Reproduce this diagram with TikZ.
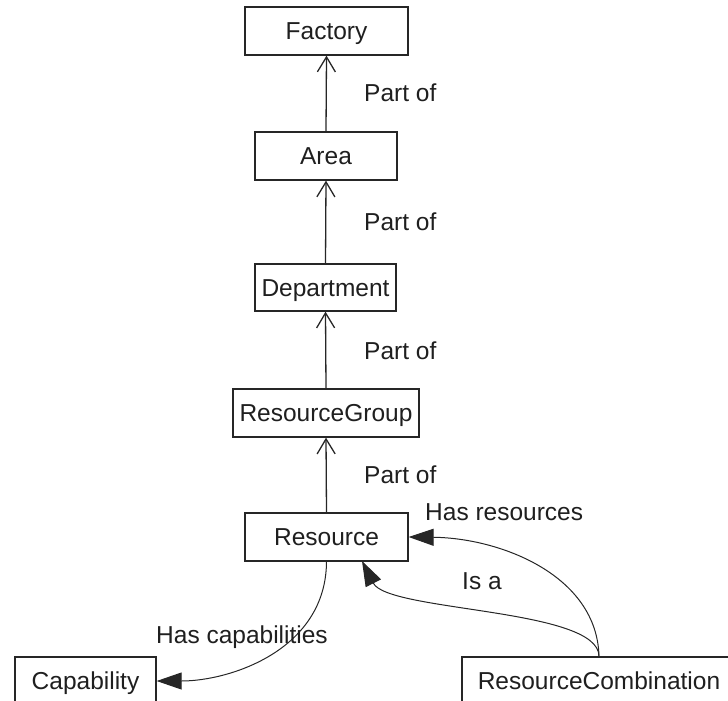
\documentclass[tikz,border=0pt]{standalone}
\usepackage{fontspec}
\setmainfont{Liberation Sans}
\usetikzlibrary{arrows.meta}

\begin{document}
\begin{tikzpicture}[x=1pt, y=-1pt,
  every node/.style={font=\fontsize{24.5pt}{29pt}\selectfont, text=black!88},
  entity/.style={draw=black!85, line width=1.3pt, inner sep=0pt,
    text height=17.5pt, text depth=0pt, minimum height=48pt},
  partof/.style={draw=black!85, line width=1.3pt,
    -{Straight Barb[length=15pt,width=18pt,line width=1.3pt]}},
  relation/.style={draw=black!85, line width=1pt,
    -{Triangle[length=25pt,width=17pt]}},
  edgelabel/.style={anchor=base west, inner sep=0pt}
]
  \useasboundingbox (0,0) rectangle (728,701);

  % entities of the hierarchy
  \node[entity, minimum width=163pt] (factory)  at (326.5,31)  {Factory};
  \node[entity, minimum width=142pt] (area)     at (326,156)   {Area};
  \node[entity, minimum width=141pt, minimum height=47pt] (dept) at (325.5,287.5) {Department};
  \node[entity, minimum width=186pt] (rgroup)   at (326,413)   {ResourceGroup};
  \node[entity, minimum width=163pt] (resource) at (326.5,537) {Resource};
  \node[entity, minimum width=141pt] (capab)    at (85.5,681)  {Capability};
  \node[entity, minimum width=274pt] (rcomb)    at (599,681)   {ResourceCombination};

  % "part of" chain
  \draw[partof] (area.north)     -- (factory.south);
  \draw[partof] (dept.north)     -- (area.south);
  \draw[partof] (rgroup.north)   -- (dept.south);
  \draw[partof] (resource.north) -- (rgroup.south);

  \node[edgelabel] (p1) at (364,101.5) {Part of};
  \node[edgelabel] (p2) at (364,230.5) {Part of};
  \node[edgelabel] (p3) at (364,359)   {Part of};
  \node[edgelabel] (p4) at (364,483.5) {Part of};

  % associations of Resource
  \coordinate (rbot) at (362,561);
  \draw[relation] (rcomb.north) .. controls (597,575) and (500,538) .. (resource.east);
  \draw[relation] (rcomb.north) .. controls (599,608) and (388,612) .. (rbot);
  \draw[relation] (resource.south) .. controls (326,650) and (230,681) .. (capab.east);

  \node[edgelabel] (lres) at (425,520) {Has resources};
  \node[edgelabel] (lisa) at (462,589) {Is a};
  \node[edgelabel] (lcap) at (156,643) {Has capabilities};
\end{tikzpicture}
\end{document}
